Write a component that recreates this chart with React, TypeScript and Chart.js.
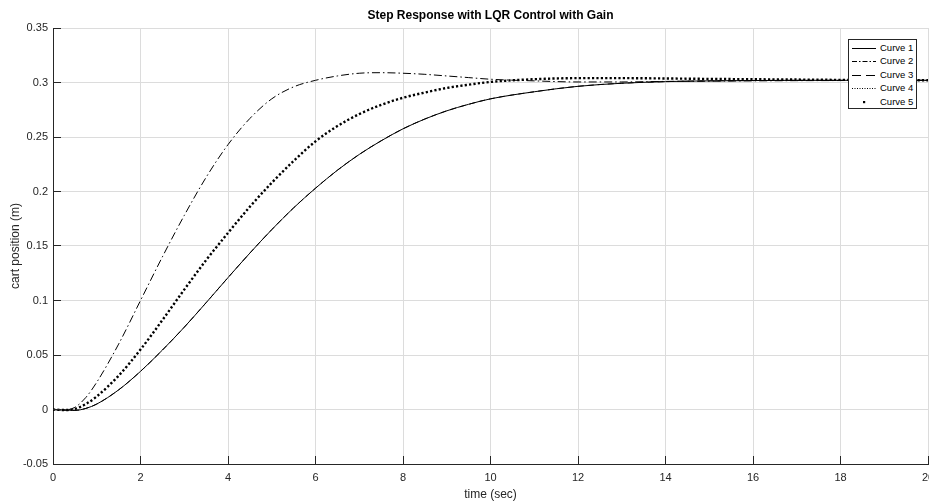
import React, { useEffect, useRef } from "react";
import { Chart, registerables } from "chart.js";

Chart.register(...registerables);

const TITLE = "Step Response with LQR Control with Gain";
const X_LABEL = "time (sec)";
const Y_LABEL = "cart position (m)";
const SERIES_NAMES = ["Curve 1", "Curve 2", "Curve 3", "Curve 4", "Curve 5"];
const X_TICKS = [0, 2, 4, 6, 8, 10, 12, 14, 16, 18, 20];
const Y_TICKS = [-0.05, 0, 0.05, 0.1, 0.15, 0.2, 0.25, 0.3, 0.35];

const TIME = [0, 0.25, 0.5, 0.75, 1, 1.5, 2, 2.5, 3, 3.5, 4, 4.5, 5, 5.5, 6, 6.5, 7, 7.5, 8, 8.5, 9, 9.5, 10, 11, 12, 13, 14, 15, 16, 17, 18, 19, 20];

const CURVE_1 = [0, -0.0005, -0.0008, 0.001, 0.005, 0.018, 0.035, 0.0545, 0.0755, 0.098, 0.121, 0.1435, 0.165, 0.185, 0.203, 0.2195, 0.234, 0.2465, 0.2575, 0.2665, 0.274, 0.28, 0.285, 0.2915, 0.2965, 0.2993, 0.3008, 0.3015, 0.3018, 0.302, 0.302, 0.302, 0.302];
const CURVE_2 = [0, -0.0005, 0.002, 0.011, 0.025, 0.06, 0.1, 0.14, 0.178, 0.213, 0.243, 0.267, 0.285, 0.296, 0.302, 0.306, 0.3085, 0.309, 0.3085, 0.3075, 0.306, 0.3045, 0.303, 0.3015, 0.3005, 0.3005, 0.301, 0.3012, 0.3015, 0.3017, 0.3018, 0.302, 0.302];
const CURVE_3 = [0, -0.0005, -0.0008, 0.001, 0.005, 0.018, 0.035, 0.0545, 0.0755, 0.098, 0.121, 0.1435, 0.165, 0.185, 0.203, 0.2195, 0.234, 0.2465, 0.2575, 0.2665, 0.274, 0.28, 0.285, 0.2915, 0.2965, 0.2993, 0.3008, 0.3015, 0.3018, 0.302, 0.302, 0.302, 0.302];
const CURVE_4 = [0, -0.0005, 0.0005, 0.005, 0.012, 0.031, 0.055, 0.082, 0.11, 0.137, 0.162, 0.186, 0.208, 0.228, 0.246, 0.26, 0.271, 0.2795, 0.286, 0.2908, 0.295, 0.298, 0.3005, 0.303, 0.304, 0.304, 0.3037, 0.3033, 0.303, 0.3027, 0.3024, 0.3022, 0.302];
const CURVE_5 = [0, -0.0005, 0.0005, 0.005, 0.012, 0.031, 0.055, 0.082, 0.11, 0.137, 0.162, 0.186, 0.208, 0.228, 0.246, 0.26, 0.271, 0.2795, 0.286, 0.2908, 0.295, 0.298, 0.3005, 0.303, 0.304, 0.304, 0.3037, 0.3033, 0.303, 0.3027, 0.3024, 0.3022, 0.302];

const CURVES = [CURVE_1, CURVE_2, CURVE_3, CURVE_4, CURVE_5];

const FONT = '"Liberation Sans", Arial, Helvetica, sans-serif';
const AXIS_COLOR = "#262626";
const GRID_COLOR = "#dcdcdc";

const LINE_STYLES = [
  { dash: [] as number[], width: 1, offset: 0 },
  { dash: [8, 3, 1.5, 3], width: 1, offset: 0 },
  { dash: [6, 4], width: 1, offset: 0 },
  { dash: [1, 3.4], width: 1, offset: -0.6 },
  { dash: [2.2, 2.2], width: 2.4, offset: 0 },
];
const LEGEND_DASH = ["", "5 2 1.5 2", "9 5", "1 1.5", ""];

const fmt = (v: number) => String(Number(Number(v).toFixed(2)));

const align = (p: number) => Math.round(p - 0.5) + 0.5;

const innerTicks = {
  id: "innerTicks",
  afterDraw(chart: any) {
    const { ctx, chartArea, scales } = chart;
    const xs = scales.x;
    const ys = scales.y;
    ctx.save();
    ctx.strokeStyle = AXIS_COLOR;
    ctx.lineWidth = 1;
    ctx.beginPath();
    X_TICKS.forEach((v) => {
      const px = align(xs.getPixelForValue(v));
      ctx.moveTo(px, chartArea.bottom);
      ctx.lineTo(px, chartArea.bottom - 8);
    });
    Y_TICKS.forEach((v) => {
      const py = align(ys.getPixelForValue(v));
      ctx.moveTo(chartArea.left, py);
      ctx.lineTo(chartArea.left + 8, py);
    });
    ctx.stroke();
    ctx.restore();
  },
};

export default function App() {
  const canvasRef = useRef<HTMLCanvasElement | null>(null);

  useEffect(() => {
    if (!canvasRef.current) return;
    const datasets = CURVES.map((vals, i) => ({
      label: SERIES_NAMES[i],
      data: TIME.map((t, k) => ({ x: t, y: vals[k] })),
      borderColor: "#000",
      backgroundColor: "#000",
      borderWidth: LINE_STYLES[i].width,
      borderDash: LINE_STYLES[i].dash,
      borderDashOffset: LINE_STYLES[i].offset,
      pointRadius: 0,
      fill: false,
      cubicInterpolationMode: "monotone" as const,
    }));

    const chart = new Chart(canvasRef.current, {
      type: "line",
      data: { datasets },
      plugins: [innerTicks],
      options: {
        animation: false,
        responsive: false,
        devicePixelRatio: 1,
        layout: { padding: { left: 0, right: 1, top: 0, bottom: 0 } },
        plugins: {
          legend: { display: false },
          tooltip: { enabled: false },
          title: {
            display: true,
            text: TITLE,
            color: "#000",
            fullSize: false,
            font: { family: FONT, size: 12, weight: "bold", lineHeight: 1.2 },
            padding: { top: 8.5, bottom: 5.1 },
          },
        },
        scales: {
          x: {
            type: "linear",
            min: 0,
            max: 20,
            afterBuildTicks: (s: any) => {
              s.ticks = X_TICKS.map((v) => ({ value: v }));
            },
            afterFit: (s: any) => {
              s.height = 39;
              s.paddingLeft = 0;
              s.paddingRight = 0;
            },
            grid: { color: GRID_COLOR, lineWidth: 1, drawTicks: false },
            border: { color: AXIS_COLOR, width: 1 },
            ticks: {
              color: AXIS_COLOR,
              font: { family: FONT, size: 11 },
              padding: 7,
              maxRotation: 0,
              minRotation: 0,
              autoSkip: false,
              callback: (v: any) => fmt(v),
            },
            title: {
              display: true,
              text: X_LABEL,
              color: AXIS_COLOR,
              font: { family: FONT, size: 12 },
              padding: { top: 0, bottom: 1 },
            },
          },
          y: {
            type: "linear",
            min: -0.05,
            max: 0.35,
            afterBuildTicks: (s: any) => {
              s.ticks = Y_TICKS.map((v) => ({ value: v }));
            },
            afterFit: (s: any) => {
              s.width = 53;
              s.paddingTop = 0;
              s.paddingBottom = 0;
            },
            grid: { color: GRID_COLOR, lineWidth: 1, drawTicks: false },
            border: { color: AXIS_COLOR, width: 1 },
            ticks: {
              color: AXIS_COLOR,
              font: { family: FONT, size: 11 },
              padding: 5,
              autoSkip: false,
              callback: (v: any) => fmt(v),
            },
            title: {
              display: true,
              text: Y_LABEL,
              color: AXIS_COLOR,
              font: { family: FONT, size: 12 },
              padding: { top: 8, bottom: 0 },
            },
          },
        },
      } as any,
    });
    return () => chart.destroy();
  }, []);

  return (
    <div
      style={{
        position: "fixed",
        left: 0,
        top: 0,
        width: 929,
        height: 503,
        overflow: "hidden",
        background: "#fff",
      }}
    >
      <canvas ref={canvasRef} width={929} height={503} style={{ width: 929, height: 503, display: "block" }} />
      <div
        style={{
          position: "absolute",
          left: 848,
          top: 39,
          width: 69,
          height: 70,
          boxSizing: "border-box",
          border: `1px solid ${AXIS_COLOR}`,
          background: "#fff",
          fontFamily: FONT,
          fontSize: 9.5,
          color: "#000",
        }}
      >
        {SERIES_NAMES.map((name, i) => (
          <div
            key={name}
            style={{ position: "absolute", left: 0, top: 0.5 + i * 13.5, width: "100%", height: 14 }}
          >
            <svg width={28} height={14} style={{ position: "absolute", left: 0, top: 0 }}>
              {i === 4 ? (
                <rect x={14} y={6} width={2.2} height={2.2} fill="#000" />
              ) : (
                <line
                  x1={3}
                  x2={27}
                  y1={7.5}
                  y2={7.5}
                  stroke="#000"
                  strokeWidth={1}
                  strokeDasharray={LEGEND_DASH[i] || undefined}
                />
              )}
            </svg>
            <span style={{ position: "absolute", left: 31, top: 0, lineHeight: "14px", whiteSpace: "nowrap" }}>
              {name}
            </span>
          </div>
        ))}
      </div>
    </div>
  );
}
